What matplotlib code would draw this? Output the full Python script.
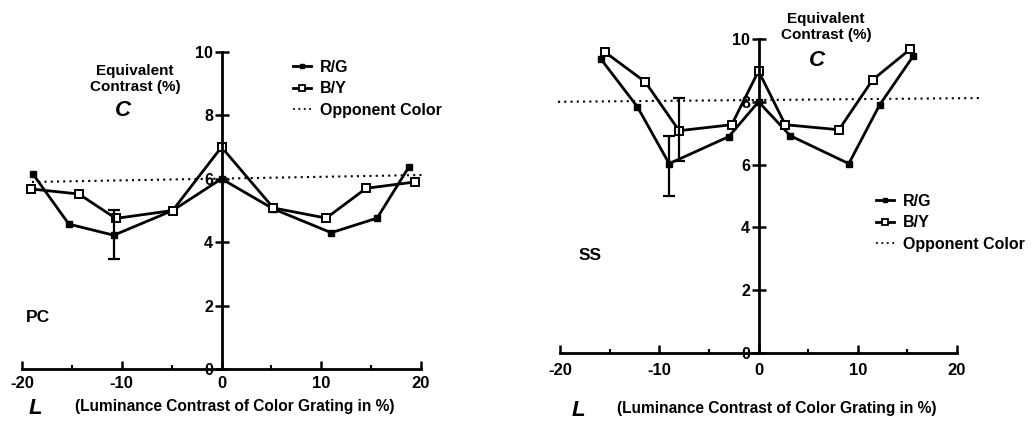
import matplotlib
matplotlib.use('Agg')
import matplotlib.pyplot as plt
from matplotlib.lines import Line2D

plt.rcParams['font.family'] = ['Liberation Sans', 'DejaVu Sans']
plt.rcParams['font.weight'] = 'bold'
plt.rcParams['axes.unicode_minus'] = False

# ---- panel PC ----
pcXRG = [-18.9, -15.3, -10.8, -4.9, 0, 5.2, 11.0, 15.6, 18.8]
pcRG = [6.15, 4.57, 4.22, 5.0, 6.0, 5.05, 4.3, 4.76, 6.38]
pcXBY = [-19.1, -14.3, -10.6, -4.9, 0, 5.2, 10.5, 14.5, 19.4]
pcBY = [5.68, 5.52, 4.75, 5.0, 7.0, 5.08, 4.76, 5.7, 5.9]
pcOppX = [-19.0, 20.2]
pcOpp = [5.9, 6.12]
pcErrX = [-10.8]
pcErrY = [4.22]
pcErrLo = [0.75]
pcErrHi = [0.8]

# ---- panel SS ----
ssXRG = [-15.9, -12.2, -9.0, -3.0, 0, 3.2, 9.1, 12.2, 15.6]
ssRG = [9.37, 7.84, 6.03, 6.89, 8.0, 6.92, 6.03, 7.9, 9.46]
ssXBY = [-15.5, -11.4, -8.0, -2.7, 0, 2.7, 8.1, 11.5, 15.3]
ssBY = [9.59, 8.63, 7.08, 7.27, 8.98, 7.27, 7.11, 8.7, 9.68]
ssOppX = [-20.2, 22.5]
ssOpp = [8.0, 8.12]
ssErrX = [-9.0, -8.0]
ssErrY = [6.03, 7.08]
ssErrLo = [1.03, 0.95]
ssErrHi = [0.87, 1.05]

xTicks = [-20, -10, 0, 10, 20]
xTickLabels = ['-20', '-10', '0', '10', '20']
xMinor = [-15, -5, 5, 15]
yTicks = [0, 2, 4, 6, 8, 10]
legendLabels = ['R/G', 'B/Y', 'Opponent Color']

W, H = 1032, 424
fig = plt.figure(figsize=(W / 100, H / 100), dpi=100)


def fx(x):
    return x / W


def fy(y):
    return 1 - y / H


def drawPanel(rect, xrg, rg, xby, by, oppx, opp, ex, ey, elo, ehi, xpad, legendAt):
    ax = fig.add_axes(rect)
    ax.set_xlim(-20, 20)
    ax.set_ylim(0, 10)
    for s in ['top', 'right']:
        ax.spines[s].set_visible(False)
    ax.spines['left'].set_position(('data', 0))
    ax.spines['bottom'].set_position(('data', 0))
    for s in ['left', 'bottom']:
        ax.spines[s].set_linewidth(2)
    ax.set_facecolor('none')

    ax.set_xticks(xTicks)
    ax.set_xticklabels(xTickLabels, fontsize=12, fontweight='bold')
    ax.set_xticks(xMinor, minor=True)
    ax.tick_params(axis='x', which='major', direction='in', length=6, width=1.8, pad=xpad)
    ax.tick_params(axis='x', which='minor', direction='in', length=3, width=1.5)
    ax.set_yticks(yTicks)
    ax.set_yticklabels([str(t) for t in yTicks], fontsize=11.5, fontweight='bold')
    ax.tick_params(axis='y', direction='inout', length=10, width=1.8, pad=1)

    ax.plot(oppx, opp, ls=(0, (1, 2)), color='k', lw=1.5, clip_on=False)
    ax.plot(xrg, rg, '-s', color='k', lw=2, ms=4, clip_on=False)
    ax.plot(xby, by, '-s', color='k', lw=2, ms=5.5, mfc='white', mew=1.4, clip_on=False)
    ax.errorbar(ex, ey, yerr=[elo, ehi], fmt='none', ecolor='k', elinewidth=1.6,
                capsize=4, capthick=1.6, clip_on=False)

    handles = [Line2D([], [], color='k', lw=2, marker='s', ms=3.5),
               Line2D([], [], color='k', lw=2, marker='s', ms=5, mfc='white', mew=1.3),
               Line2D([], [], color='k', lw=1.3, ls=(0, (1, 2)))]
    ax.legend(handles, legendLabels, loc='upper left', bbox_to_anchor=legendAt,
              bbox_transform=fig.transFigure, frameon=False, borderpad=0,
              borderaxespad=0, handlelength=1.1, handletextpad=0.6,
              labelspacing=0.4, prop={'size': 11.5, 'weight': 'bold'})
    return ax


axL = drawPanel([fx(22), 55 / H, 399 / W, 317 / H], pcXRG, pcRG, pcXBY, pcBY,
                pcOppX, pcOpp, pcErrX, pcErrY, pcErrLo, pcErrHi, 5,
                (fx(293), fy(60)))
axR = drawPanel([fx(560), 71 / H, 397 / W, 314 / H], ssXRG, ssRG, ssXBY, ssBY,
                ssOppX, ssOpp, ssErrX, ssErrY, ssErrLo, ssErrHi, 7.5,
                (fx(876), fy(194)))

# texts, left panel
fig.text(fx(135), fy(79), 'Equivalent\nContrast (%)', ha='center', va='center',
         fontsize=11, fontweight='bold', linespacing=1.1)
fig.text(fx(123), fy(110), 'C', ha='center', va='center', fontsize=16,
         fontweight='bold', style='italic')
fig.text(fx(38), fy(317), 'PC', ha='center', va='center', fontsize=12.5, fontweight='bold')
fig.text(fx(35), fy(409), 'L', ha='center', va='center', fontsize=16,
         fontweight='bold', style='italic')
fig.text(fx(75), fy(407), '(Luminance Contrast of Color Grating in %)', ha='left',
         va='center', fontsize=11.2, fontweight='bold')

# texts, right panel
fig.text(fx(826), fy(27), 'Equivalent\nContrast (%)', ha='center', va='center',
         fontsize=11, fontweight='bold', linespacing=1.1)
fig.text(fx(817), fy(60), 'C', ha='center', va='center', fontsize=16,
         fontweight='bold', style='italic')
fig.text(fx(590), fy(256), 'SS', ha='center', va='center', fontsize=12.5, fontweight='bold')
fig.text(fx(578), fy(410), 'L', ha='center', va='center', fontsize=16,
         fontweight='bold', style='italic')
fig.text(fx(617), fy(408), '(Luminance Contrast of Color Grating in %)', ha='left',
         va='center', fontsize=11.2, fontweight='bold')

fig.savefig('out.png', dpi=100)
